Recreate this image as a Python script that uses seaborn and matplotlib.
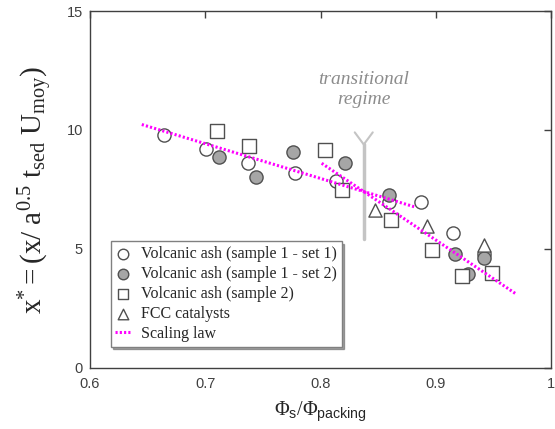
import matplotlib
matplotlib.use('Agg')
import matplotlib.pyplot as plt
import seaborn as sns

# data
ash1_x = [0.664, 0.701, 0.737, 0.778, 0.813, 0.859, 0.887, 0.915, 0.942]
ash1_y = [9.77, 9.18, 8.60, 8.20, 7.86, 6.97, 6.99, 5.67, 4.80]

ash1b_x = [0.712, 0.744, 0.776, 0.821, 0.859, 0.917, 0.928, 0.942]
ash1b_y = [8.86, 8.02, 9.07, 8.60, 7.27, 4.77, 3.93, 4.63]

ash2_x = [0.710, 0.738, 0.804, 0.819, 0.861, 0.897, 0.923, 0.949]
ash2_y = [9.97, 9.33, 9.14, 7.49, 6.23, 4.97, 3.85, 4.00]

fcc_x = [0.847, 0.892, 0.942]
fcc_y = [6.65, 5.95, 5.15]

law1_x = [0.645, 0.882]
law1_y = [10.23, 6.76]
law2_x = [0.801, 0.969]
law2_y = [8.60, 3.12]

x_ticks = [0.6, 0.7, 0.8, 0.9, 1.0]
x_ticklabels = ['0.6', '0.7', '0.8', '0.9', '1']
y_ticks = [0, 5, 10, 15]

sns.set_style('white')
plt.rcParams['font.family'] = ['Liberation Sans', 'DejaVu Sans']
plt.rcParams['mathtext.fontset'] = 'custom'
plt.rcParams['mathtext.rm'] = 'Liberation Serif'
plt.rcParams['mathtext.it'] = 'Liberation Serif:italic'
plt.rcParams['mathtext.sf'] = 'Liberation Sans'

fig = plt.figure(figsize=(5.55, 4.29), dpi=100)
ax = fig.add_axes([0.162, 0.143, 0.831, 0.831])

edge = '#505050'
ms = 90
serif = 'Liberation Serif'
dots = (0, (0.7, 0.7))

sns.scatterplot(x=ash1_x, y=ash1_y, ax=ax, marker='o', s=ms, facecolor='white',
                edgecolor=edge, linewidth=1, label='Volcanic ash (sample 1 - set 1)', zorder=3)
sns.scatterplot(x=ash1b_x, y=ash1b_y, ax=ax, marker='o', s=ms, facecolor='#a6a6a6',
                edgecolor=edge, linewidth=1, label='Volcanic ash (sample 1 - set 2)', zorder=3)
sns.scatterplot(x=ash2_x, y=ash2_y, ax=ax, marker='s', s=ms, facecolor='white',
                edgecolor=edge, linewidth=1, label='Volcanic ash (sample 2)', zorder=3)
sns.scatterplot(x=fcc_x, y=fcc_y, ax=ax, marker='^', s=ms, facecolor='white',
                edgecolor=edge, linewidth=1, label='FCC catalysts', zorder=3)

sns.lineplot(x=law1_x, y=law1_y, ax=ax, color='#ff00ff', linestyle=dots, linewidth=2.2,
             label='Scaling law', zorder=4)
sns.lineplot(x=law2_x, y=law2_y, ax=ax, color='#ff00ff', linestyle=dots, linewidth=2.2,
             zorder=4)

# transitional regime marker
gray = '#c4c4c4'
ax.plot([0.8375, 0.8375], [5.43, 9.39], color=gray, linewidth=2.5, zorder=2)
ax.plot([0.8297, 0.8375, 0.8453], [9.90, 9.39, 9.90], color=gray, linewidth=1.5, zorder=2)
ax.text(0.8375, 11.7, 'transitional\nregime', ha='center', va='center', fontsize=14,
        family=serif, style='italic', color='#8c8c8c', linespacing=1.25)

ax.set_xlim(0.6, 1.0)
ax.set_ylim(0, 15)
ax.set_xticks(x_ticks)
ax.set_xticklabels(x_ticklabels)
ax.set_yticks(y_ticks)
ax.tick_params(direction='in', length=5, width=1, colors='#404040', labelsize=10.5,
               top=True, right=True, labeltop=False, labelright=False, pad=5)
ax.tick_params(axis='x', pad=7)
for sp in ax.spines.values():
    sp.set_color('#404040')
    sp.set_linewidth(1)

ax.set_xlabel(r'$\Phi_{\mathsf{s}}/\Phi_{\mathsf{packing}}$', fontsize=14.5, labelpad=6)
ax.set_ylabel(r'$\mathrm{x^{*} = (x/\ a^{0.5}\ t_{sed}\ U_{moy})}$', fontsize=21, labelpad=8)

leg = ax.legend(loc='lower left', bbox_to_anchor=(0.045, 0.059), borderaxespad=0,
                prop={'family': serif, 'size': 11.5}, frameon=True, shadow=True,
                fancybox=False, handlelength=1.0, handletextpad=0.6, labelspacing=0.25,
                borderpad=0.3, markerscale=0.8)
leg.get_frame().set_edgecolor('#808080')
leg.get_frame().set_linewidth(1)

fig.savefig('out.png', dpi=100)
